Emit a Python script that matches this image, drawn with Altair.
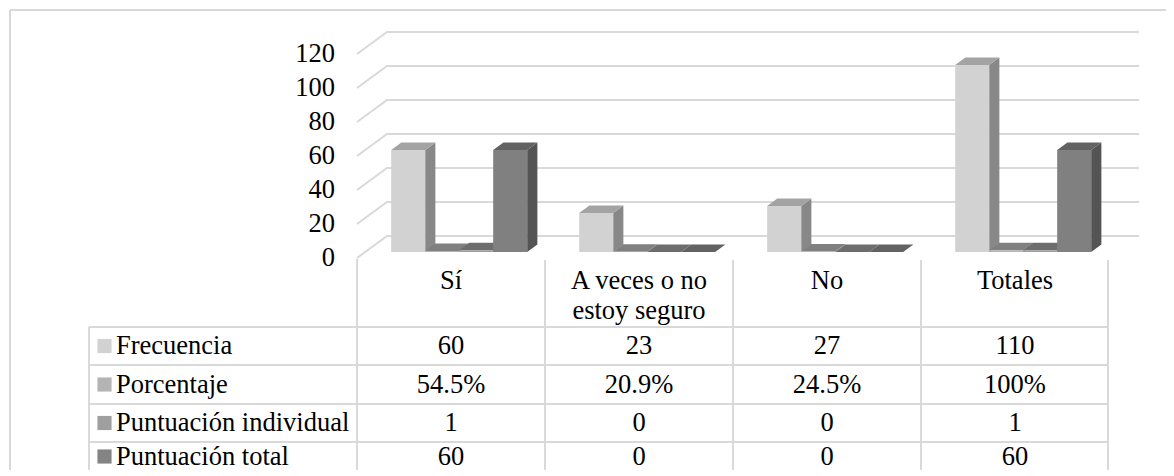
import altair as alt
import pandas as pd

# ---------------- data ----------------
categories = ["Sí", "A veces o no\nestoy seguro", "No", "Totales"]
series = ["Frecuencia", "Porcentaje", "Puntuación individual", "Puntuación total"]
frecuencia = [60, 23, 27, 110]
porcentaje = [54.5, 20.9, 24.5, 100]          # percent
punt_individual = [1, 0, 0, 1]
punt_total = [60, 0, 0, 60]
y_ticks = [0, 20, 40, 60, 80, 100, 120]

# ---------------- styles ----------------
FONT = "'Liberation Serif', 'Times New Roman', 'DejaVu Serif', serif"
FS = 26.5
GRID = "#d9d9d9"
front_col = ["#d2d2d2", "#b4b4b4", "#9f9f9f", "#808080"]
top_col = ["#a3a3a3", "#808080", "#6d6d6d", "#626262"]
side_col = ["#888888", "#767676", "#666666", "#545454"]
key_col = ["#d2d2d2", "#b4b4b4", "#9f9f9f", "#848484"]

# ---------------- layout (page pixels -> scale units) ----------------
W, H = 1158, 462          # plot area, placed at page (8, 8)
CW = 188.0                # px per category on the front plane
X0 = 357.0                # page x of category 0 (front plane)
VY = 1.7                  # px per value unit
Y0 = 252.0                # page y of value 0 at the bars' front face


def cx(px):
    return (px - X0) / CW


def vy(py):
    return (Y0 - py) / VY


XD = [cx(8), cx(8 + W)]
YD = [vy(8 + H), vy(8)]
xs = alt.Scale(domain=XD, nice=False, zero=False)
ys = alt.Scale(domain=YD, nice=False, zero=False)

# 3D projection parameters
DXC = 30.0 / CW           # full depth shift, x (category units)
DV = 22.0 / VY            # full depth shift, y (value units)
FLOOR_FRONT = -6.0 / VY   # floor at front plane
D0 = -FLOOR_FRONT / DV    # depth of bar front faces
BD = 0.34                 # bar depth
GAP = 26.0 / CW
BW = 34.0 / CW
ddx, ddv = BD * DXC, BD * DV

plotted = [frecuencia, [p / 100 for p in porcentaje], punt_individual, punt_total]
table_txt = [
    [str(v) for v in frecuencia],
    [f"{p:g}%" for p in porcentaje],
    [str(v) for v in punt_individual],
    [str(v) for v in punt_total],
]

front_rows, side_rows, top_rows = [], [], []
for i in range(len(categories)):
    for k in range(len(series)):
        v = plotted[k][i]
        L = i + GAP + k * BW + D0 * DXC
        R = L + BW
        bid = f"{i}-{k}"
        front_rows.append(dict(x=L, x2=R, y=0.0, y2=v, col=front_col[k]))
        side_rows += [
            dict(id=bid, x=R, y=0.0, y2=v, col=side_col[k]),
            dict(id=bid, x=R + ddx, y=ddv, y2=v + ddv, col=side_col[k]),
        ]
        top_rows += [
            dict(id=bid, y=v, x=L, x2=R, col=top_col[k]),
            dict(id=bid, y=v + ddv, x=L + ddx, x2=R + ddx, col=top_col[k]),
        ]

# gridlines: left wall diagonal + back wall
grid_rows = []
for t in y_ticks:
    grid_rows += [
        dict(t=t, o=0, x=0.0, y=t + FLOOR_FRONT),
        dict(t=t, o=1, x=DXC, y=t + FLOOR_FRONT + DV),
        dict(t=t, o=2, x=len(categories) + DXC, y=t + FLOOR_FRONT + DV),
    ]

tick_rows = [dict(x=cx(335), y=t + FLOOR_FRONT, label=str(t)) for t in y_ticks]

# table geometry (page px)
col_edges = [357, 545, 733, 921, 1108]
row_lines = [327, 365, 404, 442]
row_centers = [346, 384.5, 423, 456.5]
bottom = 8 + H
rules = []
rules.append(dict(x=cx(357), x2=cx(357), y=vy(259), y2=vy(bottom)))
for e in col_edges[1:]:
    rules.append(dict(x=cx(e), x2=cx(e), y=vy(260), y2=vy(bottom)))
rules.append(dict(x=cx(89), x2=cx(89), y=vy(327), y2=vy(bottom)))
for r in row_lines:
    rules.append(dict(x=cx(89), x2=cx(1108), y=vy(r), y2=vy(r)))
# chart outer border (top and left visible)
rules.append(dict(x=cx(10), x2=cx(8 + W), y=vy(10), y2=vy(10)))
rules.append(dict(x=cx(10), x2=cx(10), y=vy(10), y2=vy(bottom)))

header_rows = [dict(x=i + 0.5, y=vy(268), label=c) for i, c in enumerate(categories)]
label_rows = [dict(x=cx(116), y=vy(row_centers[k]), label=s) for k, s in enumerate(series)]
key_rows = [dict(x=cx(104.5), y=vy(row_centers[k]), col=key_col[k]) for k in range(len(series))]
val_rows = [
    dict(x=i + 0.5, y=vy(row_centers[k]), label=table_txt[k][i])
    for k in range(len(series))
    for i in range(len(categories))
]

X = lambda f="x": alt.X(f"{f}:Q", scale=xs, axis=None)
Y = lambda f="y": alt.Y(f"{f}:Q", scale=ys, axis=None)

grid = alt.Chart(pd.DataFrame(grid_rows)).mark_line(color=GRID, strokeWidth=2).encode(
    x=X(), y=Y(), detail="t:N", order="o:Q"
)
sides = alt.Chart(pd.DataFrame(side_rows)).mark_area(orient="vertical").encode(
    x=X(), y=Y(), y2="y2:Q", detail="id:N", color=alt.Color("col:N", scale=None)
)
tops = alt.Chart(pd.DataFrame(top_rows)).mark_area(orient="horizontal").encode(
    y=Y(), x=X(), x2="x2:Q", detail="id:N", color=alt.Color("col:N", scale=None)
)
fronts = alt.Chart(pd.DataFrame(front_rows)).mark_rect().encode(
    x=X(), x2="x2:Q", y=Y(), y2="y2:Q", color=alt.Color("col:N", scale=None)
)
ticks = alt.Chart(pd.DataFrame(tick_rows)).mark_text(
    font=FONT, fontSize=FS, align="right", baseline="middle", color="black"
).encode(x=X(), y=Y(), text="label:N")
table_rules = alt.Chart(pd.DataFrame(rules)).mark_rule(color=GRID, strokeWidth=2).encode(
    x=X(), x2="x2:Q", y=Y(), y2="y2:Q"
)
headers = alt.Chart(pd.DataFrame(header_rows)).mark_text(
    font=FONT, fontSize=FS, align="center", baseline="top", lineBreak="\n",
    lineHeight=30, color="black"
).encode(x=X(), y=Y(), text="label:N")
labels = alt.Chart(pd.DataFrame(label_rows)).mark_text(
    font=FONT, fontSize=FS, align="left", baseline="middle", color="black"
).encode(x=X(), y=Y(), text="label:N")
keys = alt.Chart(pd.DataFrame(key_rows)).mark_square(size=200, opacity=1).encode(
    x=X(), y=Y(), color=alt.Color("col:N", scale=None)
)
values = alt.Chart(pd.DataFrame(val_rows)).mark_text(
    font=FONT, fontSize=FS, align="center", baseline="middle", color="black"
).encode(x=X(), y=Y(), text="label:N")

chart = (
    alt.layer(grid, table_rules, sides, tops, fronts, ticks, headers, labels, keys, values)
    .properties(width=W, height=H, padding=0, autosize=alt.AutoSizeParams(type="none"))
    .configure_view(strokeWidth=0)
)

chart.save("out.html", embed_options={"renderer": "svg", "actions": False})
